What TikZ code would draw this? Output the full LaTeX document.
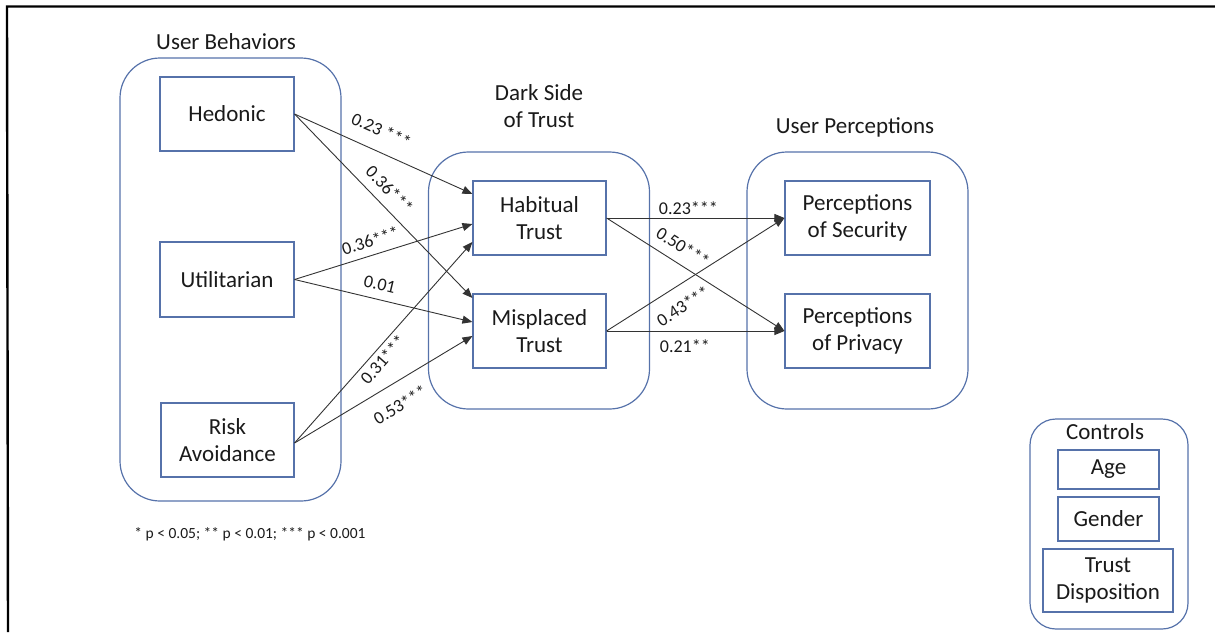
\documentclass[tikz,border=0pt]{standalone}
\usepackage{fontspec}
\setmainfont{Carlito}
\usetikzlibrary{arrows.meta}
\definecolor{boxblue}{HTML}{5672AA}
\definecolor{txt}{HTML}{1A1A1A}
\tikzset{
  grp/.style={draw=boxblue, line width=1.2pt, rounded corners=40pt, inner sep=0pt},
  vbox/.style={draw=boxblue, line width=1.1pt, inner sep=0pt, align=center,
     font=\fontsize{23}{27}\selectfont, text=txt},
  ttl/.style={inner sep=0pt, align=center, font=\fontsize{23}{27}\selectfont, text=txt},
  arr/.style={draw=black!80, line width=0.9pt, -{Triangle[length=10pt,width=8pt]}},
  lab/.style={inner sep=0pt, font=\fontsize{18}{20}\selectfont, text=txt, sloped},
}
\begin{document}
\begin{tikzpicture}[x=1pt,y=-1pt]
\useasboundingbox (0,0) rectangle (1215,632);
\coordinate (f1) at (7,6.5);
\coordinate (f2) at (1215,6.5);
\coordinate (f3) at (8,632);
\draw[line width=2.4pt] (f2) -- (f1) -- (f3);

% groups
\node[grp, minimum width=221pt, minimum height=443pt] (gub) at (230.5,279.5) {};
\node[grp, minimum width=221pt, minimum height=257pt] (gds) at (539,280.5) {};
\node[grp, minimum width=221pt, minimum height=257pt] (gup) at (857.5,280.5) {};
\node[grp, rounded corners=26pt, minimum width=158pt, minimum height=210pt] (gct) at (1109,524) {};

% titles
\node[ttl] (tub) at (226,42) {User Behaviors};
\node[ttl] (tds) at (539,106) {Dark Side\\of Trust};
\node[ttl] (tup) at (855,127) {User Perceptions};
\node[ttl] (tct) at (1105,432) {Controls};

% boxes
\node[vbox, minimum width=134pt, minimum height=74pt] (hed) at (227,114) {Hedonic};
\node[vbox, minimum width=134pt, minimum height=75pt] (uti) at (227,279.5) {Utilitarian};
\node[vbox, minimum width=133pt, minimum height=74pt] (risk) at (227.5,440) {Risk\\Avoidance};
\node[vbox, minimum width=133pt, minimum height=74pt] (hab) at (539.5,218) {Habitual\\Trust};
\node[vbox, minimum width=133pt, minimum height=74pt] (mis) at (539.5,331) {Misplaced\\Trust};
\node[vbox, minimum width=145pt, minimum height=74pt] (sec) at (857.5,218) {Perceptions\\of Security};
\node[vbox, minimum width=145pt, minimum height=74pt] (pri) at (857.5,331) {Perceptions\\of Privacy};
\node[vbox, minimum width=101pt, minimum height=39pt] (age) at (1108.5,469.5) {Age};
\node[vbox, minimum width=101pt, minimum height=44pt] (gen) at (1108.5,519) {Gender};
\node[vbox, minimum width=130pt, minimum height=63pt] (td) at (1108,580.5) {Trust\\Disposition};

% arrows left
\draw[arr] (hed.east) -- node[lab, above=14pt, pos=0.44] {0.23 ***} ([yshift=24pt]hab.west);
\draw[arr] (hed.east) -- node[lab, above=9pt, pos=0.47] {0.36***} ([yshift=33pt]mis.west);
\draw[arr] (uti.east) -- node[lab, above=7.5pt, pos=0.45] {0.36***} ([yshift=-6pt]hab.west);
\draw[arr] (uti.east) -- node[lab, above=8.5pt, pos=0.46] {0.01} ([yshift=9pt]mis.west);
\draw[arr] ([yshift=-3pt]risk.east) -- node[lab, below=4pt, pos=0.45] {0.31***} ([yshift=-24pt]hab.west);
\draw[arr] ([yshift=-3pt]risk.east) -- node[lab, below=15pt, pos=0.53] {0.53***} ([yshift=-5pt]mis.west);

% arrows right
\draw[arr] (hab.east) -- node[lab, above=3pt, pos=0.46] {0.23***} (sec.west);
\draw[arr] (hab.east) -- node[lab, above=9.5pt, pos=0.38] {0.50***} (pri.west);
\draw[arr] (mis.east) -- node[lab, below=13pt, pos=0.37] {0.43***} (sec.west);
\draw[arr] (mis.east) -- node[lab, below=8pt, pos=0.44] {0.21**} (pri.west);

% footnote
\node[inner sep=0pt, font=\fontsize{15.5}{18}\selectfont, text=txt] (fn) at (250,534) {* p < 0.05; ** p < 0.01; *** p < 0.001};
\end{tikzpicture}
\end{document}
